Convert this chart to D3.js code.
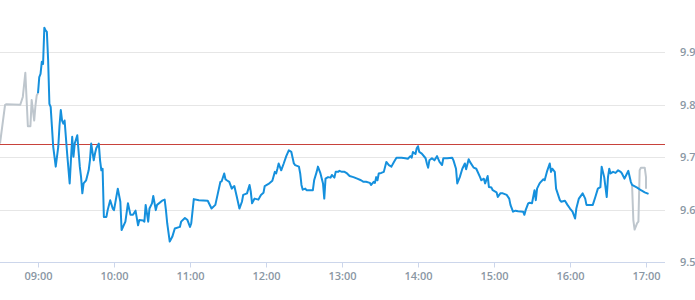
<!DOCTYPE html>
<html>
<head>
<meta charset="utf-8">
<script src="https://cdn.jsdelivr.net/npm/d3@7"></script>
<style>
  html, body { margin: 0; padding: 0; background: #fff; }
  #chart text { font-family: "Open Sans", sans-serif; }
</style>
</head>
<body>
<div id="chart"></div>
<script>
// --- data ---
const day = "2024-01-15";

const mainTimes = [
  "09:00","09:01","09:02","09:03","09:04","09:05","09:06","09:07","09:08","09:09",
  "09:10","09:12","09:14","09:16","09:17","09:18","09:19","09:20","09:21","09:23",
  "09:25","09:27","09:28","09:29","09:31","09:33","09:34","09:35","09:36","09:38",
  "09:40","09:41","09:42","09:44","09:45","09:46","09:48","09:49","09:50","09:51",
  "09:52","09:54","09:55","09:57","09:59","10:00","10:03","10:05","10:06","10:09",
  "10:11","10:13","10:15","10:17","10:19","10:20","10:23","10:24","10:25","10:27",
  "10:28","10:30","10:31","10:33","10:34","10:38","10:40","10:41","10:42","10:44",
  "10:46","10:48","10:52","10:53","10:56","10:58","11:00","11:01","11:03","11:07",
  "11:14","11:17","11:20","11:22","11:24","11:25","11:27","11:28","11:29","11:31",
  "11:33","11:34","11:35","11:37","11:39","11:41","11:42","11:45","11:47","11:48",
  "11:49","11:51","11:54","11:56","11:58","11:59","12:02","12:05","12:07","12:08",
  "12:09","12:10","12:12","12:14","12:16","12:18","12:20","12:22","12:23","12:26",
  "12:27","12:28","12:29","12:31","12:32","12:37","12:38","12:40","12:41","12:43",
  "12:45","12:46","12:47","12:49","12:51","12:52","12:54","12:55","12:57","12:58",
  "13:00","13:02","13:04","13:06","13:09","13:12","13:15","13:17","13:19","13:22",
  "13:23","13:25","13:26","13:27","13:28","13:29","13:31","13:33","13:35","13:37",
  "13:39","13:41","13:43","13:47","13:50","13:52","13:54","13:55","13:56","13:58",
  "13:59","14:00","14:01","14:03","14:06","14:07","14:08","14:09","14:11","14:13",
  "14:15","14:17","14:19","14:20","14:23","14:27","14:28","14:30","14:31","14:33",
  "14:35","14:37","14:38","14:40","14:41","14:44","14:46","14:49","14:50","14:52",
  "14:53","14:55","14:56","14:58","14:59","15:02","15:03","15:05","15:07","15:10",
  "15:12","15:13","15:15","15:17","15:19","15:23","15:24","15:25","15:27","15:28",
  "15:30","15:32","15:33","15:34","15:36","15:37","15:39","15:40","15:42","15:44",
  "15:45","15:46","15:48","15:49","15:52","15:53","15:56","15:58","16:00","16:02",
  "16:04","16:05","16:07","16:10","16:12","16:13","16:18","16:20","16:22","16:24",
  "16:25","16:27","16:29","16:30","16:31","16:32","16:34","16:36","16:38","16:40",
  "16:41","16:43","16:45","16:46","16:48","16:49","16:53","16:56","16:59","17:02"
];
const mainValues = [
  9.822,9.853,9.859,9.882,9.878,9.947,9.942,9.939,9.885,9.802,
  9.796,9.720,9.682,9.720,9.761,9.790,9.770,9.764,9.770,9.707,
  9.650,9.739,9.701,9.726,9.742,9.682,9.662,9.631,9.650,9.656,
  9.675,9.694,9.726,9.694,9.707,9.717,9.726,9.694,9.675,9.678,
  9.586,9.586,9.599,9.618,9.602,9.599,9.640,9.615,9.561,9.577,
  9.612,9.590,9.590,9.598,9.570,9.580,9.579,9.577,9.609,9.577,
  9.602,9.612,9.626,9.599,9.609,9.617,9.619,9.599,9.574,9.539,
  9.548,9.564,9.567,9.577,9.584,9.580,9.567,9.574,9.620,9.618,
  9.617,9.602,9.609,9.631,9.653,9.654,9.669,9.658,9.656,9.653,
  9.640,9.643,9.645,9.624,9.602,9.615,9.628,9.631,9.647,9.634,
  9.612,9.621,9.619,9.628,9.632,9.645,9.649,9.655,9.672,9.669,
  9.678,9.688,9.675,9.688,9.702,9.713,9.710,9.688,9.685,9.682,
  9.669,9.647,9.638,9.640,9.637,9.637,9.656,9.672,9.682,9.669,
  9.650,9.621,9.659,9.662,9.661,9.666,9.661,9.672,9.672,9.674,
  9.672,9.672,9.669,9.664,9.662,9.659,9.656,9.653,9.653,9.651,
  9.647,9.653,9.651,9.662,9.656,9.669,9.670,9.672,9.691,9.685,
  9.682,9.691,9.699,9.699,9.698,9.697,9.702,9.699,9.710,9.706,
  9.717,9.721,9.710,9.707,9.698,9.688,9.680,9.694,9.698,9.694,
  9.702,9.691,9.685,9.698,9.698,9.699,9.694,9.678,9.650,9.662,
  9.678,9.688,9.677,9.696,9.691,9.680,9.678,9.662,9.656,9.659,
  9.650,9.664,9.643,9.642,9.637,9.633,9.624,9.631,9.631,9.628,
  9.621,9.609,9.596,9.598,9.597,9.596,9.590,9.599,9.612,9.613,
  9.612,9.637,9.618,9.640,9.650,9.653,9.658,9.656,9.674,9.688,
  9.672,9.678,9.672,9.640,9.618,9.615,9.617,9.609,9.602,9.596,
  9.583,9.602,9.621,9.631,9.621,9.609,9.609,9.624,9.640,9.643,
  9.682,9.662,9.624,9.662,9.678,9.669,9.672,9.670,9.675,9.672,
  9.669,9.659,9.669,9.674,9.653,9.647,9.642,9.637,9.633,9.630
];

// pre-open and after-hours quotes (grey)
const preTimes  = ["08:30","08:34","08:35","08:46","08:48","08:50","08:52","08:54","08:55","08:57","08:58","08:59","09:00"];
const preValues = [9.726, 9.800, 9.801, 9.800, 9.815, 9.861, 9.759, 9.759, 9.809, 9.770, 9.799, 9.818, 9.822];
const postTimes  = ["16:49","16:50","16:51","16:53","16:54","16:55","16:56","16:59","17:00","17:00"];
const postValues = [9.647, 9.580, 9.562, 9.574, 9.577, 9.675, 9.680, 9.680, 9.662, 9.640];

const prevClose = 9.725;
const yTicks = [9.5, 9.6, 9.7, 9.8, 9.9];
const xTickTimes = ["09:00","10:00","11:00","12:00","13:00","14:00","15:00","16:00","17:00"];
const xStart = "08:30";
const xEnd = "17:15";

// --- helpers ---
const parse = d3.timeParse("%Y-%m-%d %H:%M");
const toDate = t => parse(`${day} ${t}`);
const zip = (ts, vs) => ts.map((t, i) => ({ date: toDate(t), value: vs[i] }));

const mainData = zip(mainTimes, mainValues);
const preData = zip(preTimes, preValues);
const postData = zip(postTimes, postValues);

// --------------------------
// CHART DIMENSIONS
// --------------------------
const width = 695;
const height = 300;
const plotRight = 665;
const plotBottom = 262;

const svg = d3.select("#chart")
  .append("svg")
  .attr("width", width)
  .attr("height", height);

const x = d3.scaleTime()
  .domain([toDate(xStart), toDate(xEnd)])
  .range([0, plotRight]);

const y = d3.scaleLinear()
  .domain([9.5, 10])
  .range([plotBottom, 0]);

// gridlines
svg.append("g")
  .selectAll("line")
  .data(yTicks.slice(1))
  .join("line")
    .attr("x1", 0)
    .attr("x2", plotRight)
    .attr("y1", d => Math.round(y(d)) + 0.5)
    .attr("y2", d => Math.round(y(d)) + 0.5)
    .attr("stroke", "#e6e6e6")
    .attr("stroke-width", 1);

// y labels (right side)
svg.append("g")
  .selectAll("text")
  .data(yTicks)
  .join("text")
    .attr("x", 680)
    .attr("y", d => y(d) + 4)
    .attr("fill", "#8a97a4")
    .attr("font-size", 11)
    .attr("font-weight", 600)
    .text(d => d3.format(".1f")(d));

// x axis
const xAxis = svg.append("g")
  .attr("transform", `translate(0, ${plotBottom + 0.5})`)
  .call(d3.axisBottom(x)
    .tickValues(xTickTimes.map(toDate))
    .tickFormat(d3.timeFormat("%H:%M"))
    .tickSizeInner(5)
    .tickSizeOuter(0)
    .tickPadding(5));

xAxis.select(".domain")
  .attr("stroke", "#ccd6eb")
  .attr("d", `M0,0H${plotRight}`);
xAxis.selectAll(".tick line").attr("stroke", "#ccd6eb");
xAxis.selectAll(".tick text")
  .attr("fill", "#8a97a4")
  .attr("font-size", 11)
  .attr("font-weight", 600)
  .attr("font-family", "'Open Sans', sans-serif");

// previous close (under the price lines)
svg.append("line")
  .attr("x1", 0)
  .attr("x2", plotRight)
  .attr("y1", Math.round(y(prevClose)) + 0.5)
  .attr("y2", Math.round(y(prevClose)) + 0.5)
  .attr("stroke", "#c8423b")
  .attr("stroke-width", 1);

// lines
const line = d3.line()
  .x(d => x(d.date))
  .y(d => y(d.value));

[preData, postData].forEach(seg => {
  svg.append("path")
    .datum(seg)
    .attr("fill", "none")
    .attr("stroke", "#bec6cd")
    .attr("stroke-width", 2)
    .attr("stroke-linejoin", "round")
    .attr("d", line);
});

svg.append("path")
  .datum(mainData)
  .attr("fill", "none")
  .attr("stroke", "#1590dd")
  .attr("stroke-width", 2)
  .attr("stroke-linejoin", "round")
  .attr("d", line);
</script>
</body>
</html>
